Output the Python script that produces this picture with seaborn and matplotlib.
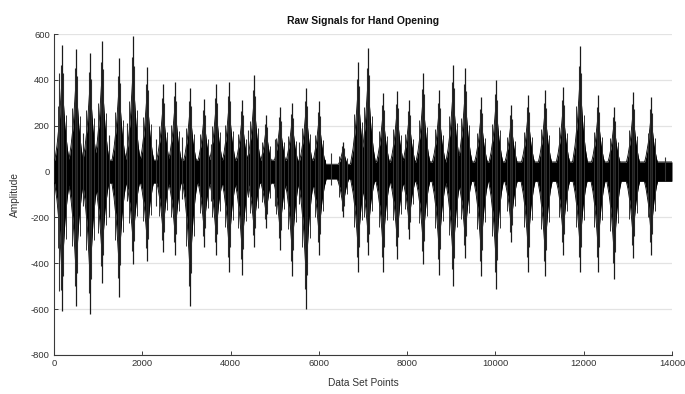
import numpy as np
import pandas as pd
import matplotlib
matplotlib.use("Agg")
import matplotlib.pyplot as plt
import seaborn as sns

# ---- data (burst centres and their extreme amplitudes) ----
burst_pos = [181, 498, 816, 1087, 1472, 1790, 2107, 2469, 2741, 3081, 3398, 3670,
             3964, 4259, 4531, 4803, 5120, 5392, 5709, 6003, 6547, 6887, 7113, 7453,
             7770, 8042, 8359, 8722, 9039, 9311, 9673, 10013, 10353, 10738, 11123,
             11531, 11916, 12324, 12686, 13117, 13525]
peak_hi = [553, 536, 518, 571, 497, 593, 457, 383, 392, 366, 318, 383,
           392, 314, 423, 248, 283, 301, 366, 309, 131, 479, 540, 344,
           353, 314, 431, 357, 466, 453, 327, 401, 292, 335, 357,
           370, 549, 335, 283, 349, 327]
peak_lo = [-610, -588, -623, -484, -545, -405, -392, -349, -362, -588, -331, -362,
           -440, -449, -327, -244, -340, -457, -601, -362, -200, -440, -362, -440,
           -383, -296, -405, -449, -501, -375, -457, -514, -309, -436, -457,
           -362, -436, -440, -470, -375, -362]
# extra isolated spikes
spike_x = [110, 13842, 650, 1250, 1650, 2300, 2900, 3550, 4400, 5000, 5550, 6280]
spike_hi = [431, 65, 170, 160, 210, 140, 150, 120, 180, 140, 130, 80]
spike_lo = [-520, -40, -150, -200, -130, -150, -120, -130, -110, -150, -140, -60]
# background noise band per segment
band_start = [0, 6150, 6800]
band_end = [6150, 6800, 14000]
band_amp = [50, 32, 42]

x_ticks = list(range(0, 14001, 2000))
y_ticks = list(range(-800, 601, 200))

# ---- figure ----
sns.set_theme(style="whitegrid")
plt.rcParams["font.family"] = ["Liberation Sans", "DejaVu Sans"]

fig = plt.figure(figsize=(6.85, 3.94), dpi=100)
ax = fig.add_axes([54 / 685, 1 - 355 / 394, 618 / 685, 321 / 394])

xs = np.arange(0, 14001, 4)
band = np.zeros_like(xs, dtype=float)
for s, e, a in zip(band_start, band_end, band_amp):
    band[(xs >= s) & (xs <= e)] = a
upper = band.copy()
lower = -band.copy()

shape_dx = [-175, -115, -62, -25, 0, 25, 65, 120, 175]
shape_fr = [0.06, 0.2, 0.38, 0.6, 0.72, 0.58, 0.36, 0.18, 0.06]
for c, hi, lo in zip(burst_pos, peak_hi, peak_lo):
    fr = np.interp(xs - c, shape_dx, shape_fr, left=0, right=0)
    upper = np.maximum(upper, fr * hi)
    lower = np.minimum(lower, fr * lo)

ax.fill_between(xs, lower, upper, color="black", lw=0, zorder=3)
env = pd.DataFrame({"x": np.concatenate([xs, xs]),
                    "y": np.concatenate([upper, lower]),
                    "side": ["up"] * len(xs) + ["lo"] * len(xs)})
sns.lineplot(data=env, x="x", y="y", units="side", estimator=None,
             color="black", lw=0.6, ax=ax, zorder=3)

# spikes of each burst
bp = np.array(burst_pos)
hi = np.array(peak_hi)
lo = np.array(peak_lo)
ax.vlines(bp, lo, hi, color="#1a1a1a", lw=0.9, zorder=4)
ax.vlines(bp - 28, lo * 0.85, hi * 0.84, color="#2a2a2a", lw=0.8, zorder=4)
ax.vlines(bp + 32, lo * 0.75, hi * 0.78, color="#2a2a2a", lw=0.8, zorder=4)
ax.vlines(bp - 80, lo * 0.55, hi * 0.52, color="#333333", lw=0.7, zorder=4)
ax.vlines(bp + 90, lo * 0.48, hi * 0.45, color="#333333", lw=0.7, zorder=4)
ax.vlines(spike_x, spike_lo, spike_hi, color="#333333", lw=0.8, zorder=4)

ax.set_xlim(0, 14000)
ax.set_ylim(-800, 600)
ax.set_xticks(x_ticks)
ax.set_yticks(y_ticks)
ax.set_xticklabels([str(t) for t in x_ticks])
ax.set_yticklabels([str(t) for t in y_ticks])
ax.grid(False)
ax.yaxis.grid(True, color="#e3e3e3", lw=0.9)
ax.set_facecolor("white")
for side in ["top", "right"]:
    ax.spines[side].set_visible(False)
for side in ["left", "bottom"]:
    ax.spines[side].set_visible(True)
    ax.spines[side].set_color("#3a3a3a")
    ax.spines[side].set_linewidth(0.8)
ax.tick_params(axis="both", direction="in", length=3, width=0.7,
               color="#3a3a3a", labelsize=6.8, labelcolor="#333333", pad=3)
ax.tick_params(axis="both", which="both", bottom=True, left=True)

ax.set_title("Raw Signals for Hand Opening", fontsize=7.5, fontweight="bold",
             color="#111111", pad=7)
ax.set_xlabel("Data Set Points", fontsize=7.3, color="#333333", labelpad=7)
ax.set_ylabel("Amplitude", fontsize=7.3, color="#333333", labelpad=8)

fig.savefig("out.png", dpi=100, facecolor="white")
